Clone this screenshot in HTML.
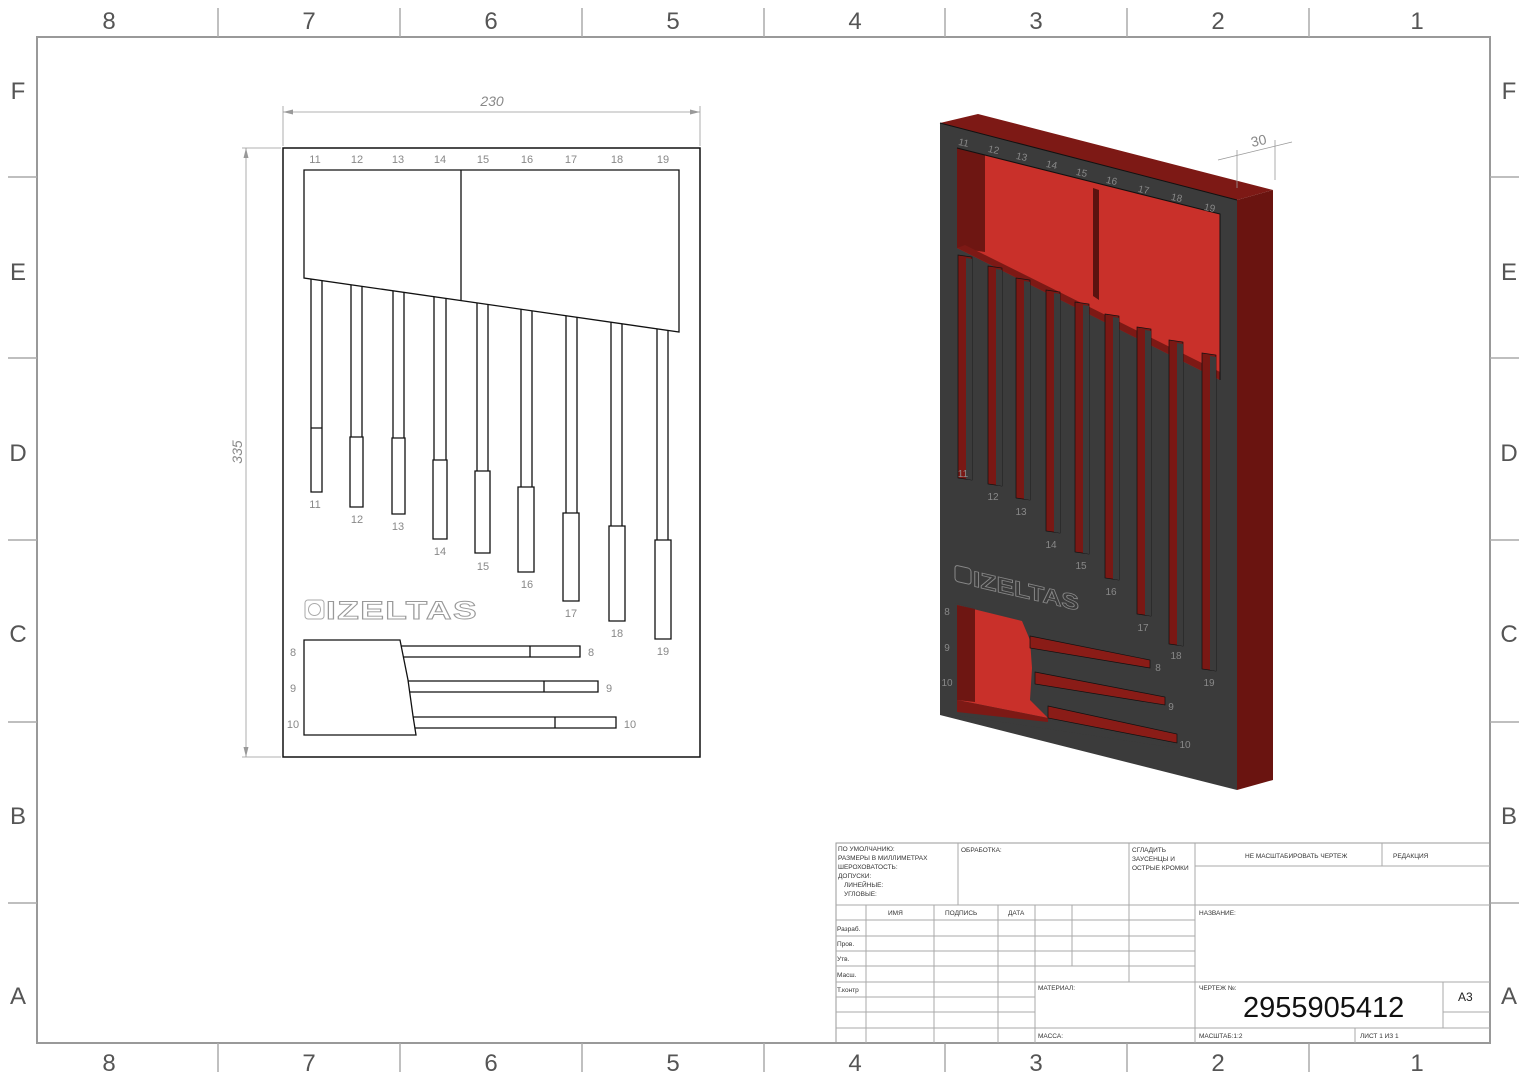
<!DOCTYPE html>
<html><head><meta charset="utf-8"><style>
html,body{margin:0;padding:0;background:#fff}
svg{display:block}
text{font-family:"Liberation Sans","DejaVu Sans",sans-serif}
.g{fill:#555;font-size:24px}
.n{fill:#888;font-size:11px}
.t{fill:#333;font-size:6.5px}
.tb line{stroke:#aaa;stroke-width:1}
</style></head><body>
<svg width="1527" height="1080" viewBox="0 0 1527 1080" xmlns="http://www.w3.org/2000/svg">
<rect width="1527" height="1080" fill="#fff"/>
<!-- frame -->
<rect x="37" y="37" width="1453" height="1006" fill="none" stroke="#999" stroke-width="2"/>
<g stroke="#aaa" stroke-width="1.5">
<line x1="218" y1="8" x2="218" y2="37"/><line x1="400" y1="8" x2="400" y2="37"/><line x1="582" y1="8" x2="582" y2="37"/><line x1="764" y1="8" x2="764" y2="37"/><line x1="945" y1="8" x2="945" y2="37"/><line x1="1127" y1="8" x2="1127" y2="37"/><line x1="1309" y1="8" x2="1309" y2="37"/>
<line x1="218" y1="1043" x2="218" y2="1072"/><line x1="400" y1="1043" x2="400" y2="1072"/><line x1="582" y1="1043" x2="582" y2="1072"/><line x1="764" y1="1043" x2="764" y2="1072"/><line x1="945" y1="1043" x2="945" y2="1072"/><line x1="1127" y1="1043" x2="1127" y2="1072"/><line x1="1309" y1="1043" x2="1309" y2="1072"/>
<line x1="8" y1="177" x2="37" y2="177"/><line x1="8" y1="358" x2="37" y2="358"/><line x1="8" y1="540" x2="37" y2="540"/><line x1="8" y1="722" x2="37" y2="722"/><line x1="8" y1="903" x2="37" y2="903"/>
<line x1="1490" y1="177" x2="1519" y2="177"/><line x1="1490" y1="358" x2="1519" y2="358"/><line x1="1490" y1="540" x2="1519" y2="540"/><line x1="1490" y1="722" x2="1519" y2="722"/><line x1="1490" y1="903" x2="1519" y2="903"/>
</g>
<g class="g" text-anchor="middle">
<text x="109" y="29">8</text><text x="309" y="29">7</text><text x="491" y="29">6</text><text x="673" y="29">5</text><text x="855" y="29">4</text><text x="1036" y="29">3</text><text x="1218" y="29">2</text><text x="1417" y="29">1</text>
<text x="109" y="1071">8</text><text x="309" y="1071">7</text><text x="491" y="1071">6</text><text x="673" y="1071">5</text><text x="855" y="1071">4</text><text x="1036" y="1071">3</text><text x="1218" y="1071">2</text><text x="1417" y="1071">1</text>
<text x="18" y="99">F</text><text x="18" y="280">E</text><text x="18" y="461">D</text><text x="18" y="642">C</text><text x="18" y="824">B</text><text x="18" y="1004">A</text>
<text x="1509" y="99">F</text><text x="1509" y="280">E</text><text x="1509" y="461">D</text><text x="1509" y="642">C</text><text x="1509" y="824">B</text><text x="1509" y="1004">A</text>
</g>

<!-- FRONT VIEW -->
<g stroke="#999" stroke-width="0.8" fill="none">
<line x1="283" y1="146" x2="283" y2="106"/><line x1="700" y1="146" x2="700" y2="106"/>
<line x1="283" y1="112" x2="700" y2="112"/>
<line x1="281" y1="148" x2="242" y2="148"/><line x1="281" y1="757" x2="242" y2="757"/>
<line x1="246" y1="148" x2="246" y2="757"/>
</g>
<path d="M283 112l10 -2.5v5z M700 112l-10 -2.5v5z M246 148l-2.5 10h5z M246 757l-2.5 -10h5z" fill="#999"/>
<text x="492" y="106" class="n" style="font-size:14px;font-style:italic" text-anchor="middle">230</text>
<text x="242" y="452" class="n" style="font-size:14px;font-style:italic" text-anchor="middle" transform="rotate(-90 242 452)">335</text>

<rect x="283" y="148" width="417" height="609" fill="none" stroke="#111" stroke-width="1.5"/>
<g fill="none" stroke="#111" stroke-width="1.3">
<polygon points="304,170 679,170 679,332 304,278"/>
<line x1="461" y1="170" x2="461" y2="300.6"/>
<path d="M311 279V428V492H322V428V280.6 M311 428H322"/>
<path d="M351 284.8V437H350V507H363V437H362V286.4 M350 437H363"/>
<path d="M393 290.8V438H392V514H405V438H404V292.4 M392 438H405"/>
<path d="M434 296.7V460H433V539H447V460H446V298.4 M433 460H447"/>
<path d="M477 302.9V471H475V553H490V471H488V304.5 M475 471H490"/>
<path d="M521 309.2V487H518V572H534V487H532V310.8 M518 487H534"/>
<path d="M566 315.7V513H563V601H579V513H577V317.3 M563 513H579"/>
<path d="M611 322.2V526H609V621H625V526H622V323.8 M609 526H625"/>
<path d="M657 328.8V540H655V639H671V540H668V330.4 M655 540H671"/>
<polygon points="304,640 400,640 408,680 413,716 416,735 304,735"/>
<path d="M401 646H580V657H403 M530 646V657"/>
<path d="M408 681H598V692H410 M544 681V692"/>
<path d="M413 717H616V728H415 M555 717V728"/>
</g>
<g class="n" text-anchor="middle">
<text x="315" y="163">11</text><text x="357" y="163">12</text><text x="398" y="163">13</text><text x="440" y="163">14</text><text x="483" y="163">15</text><text x="527" y="163">16</text><text x="571" y="163">17</text><text x="617" y="163">18</text><text x="663" y="163">19</text>
<text x="315" y="508">11</text><text x="357" y="523">12</text><text x="398" y="530">13</text><text x="440" y="555">14</text><text x="483" y="570">15</text><text x="527" y="588">16</text><text x="571" y="617">17</text><text x="617" y="637">18</text><text x="663" y="655">19</text>
<text x="293" y="656">8</text><text x="591" y="656">8</text><text x="293" y="692">9</text><text x="609" y="692">9</text><text x="293" y="728">10</text><text x="630" y="728">10</text>
</g>
<rect x="305" y="600" width="19" height="19" rx="3" fill="none" stroke="#aaa" stroke-width="1"/>
<circle cx="314.5" cy="609.5" r="6" fill="none" stroke="#aaa"/>
<text x="326" y="619" fill="none" stroke="#999" stroke-width="0.9" style="font-size:25px;font-weight:bold;letter-spacing:1px" textLength="152" lengthAdjust="spacingAndGlyphs">IZELTAS</text>

<!-- ISO VIEW -->
<polygon points="940,123 978,114 1273,190 1237,200" fill="#7d1915"/>
<polygon points="1237,200 1273,190 1273,780 1237,790" fill="#6a1410"/>
<polygon points="940,123 1237,200 1237,790 940,715" fill="#3b3b3b"/>
<polygon points="940,123 1237,200" fill="none" stroke="#111"/>
<!-- top pocket -->
<polygon points="957,148 1220,214 1220,380 957,248" fill="#c9302a"/>
<polygon points="957,148 985,155 985,252 957,248" fill="#6e1612"/>
<polygon points="957,248 1220,380 1220,372 965,245" fill="#7d1915"/>
<polygon points="1093,188 1099,190 1099,300 1093,296" fill="#5a120f"/>
<polyline points="957,148 1220,214 1220,380" fill="none" stroke="#111"/>
<!-- slots -->
<g fill="#7a1814" stroke="#111" stroke-width="0.7">
<polygon points="958,255 972,257 972,480 958,478"/>
<polygon points="988,266 1002,268 1002,486 988,484"/>
<polygon points="1016,278 1030,280 1030,500 1016,498"/>
<polygon points="1046,290 1060,292 1060,533 1046,531"/>
<polygon points="1075,302 1089,304 1089,554 1075,552"/>
<polygon points="1105,314 1119,316 1119,580 1105,578"/>
<polygon points="1137,327 1151,329 1151,616 1137,614"/>
<polygon points="1169,340 1183,342 1183,646 1169,644"/>
<polygon points="1202,353 1216,355 1216,671 1202,669"/>
</g>
<g fill="#3b3b3b">
<polygon points="966,258 972,259 972,480 966,479"/>
<polygon points="996,269 1002,270 1002,486 996,485"/>
<polygon points="1024,281 1030,282 1030,500 1024,499"/>
<polygon points="1054,293 1060,294 1060,533 1054,532"/>
<polygon points="1083,305 1089,306 1089,554 1083,553"/>
<polygon points="1113,317 1119,318 1119,580 1113,579"/>
<polygon points="1145,330 1151,331 1151,616 1145,615"/>
<polygon points="1177,343 1183,344 1183,646 1177,645"/>
<polygon points="1210,356 1216,357 1216,671 1210,670"/>
</g>
<!-- bottom pocket -->
<polygon points="955,603 1022,620 1030,640 1030,700 1050,720 1176,745 1176,748 955,715" fill="#3b3b3b"/>
<polygon points="957,605 1022,621 1030,640 1032,668 1030,700 1048,718 957,700" fill="#c9302a"/>
<polygon points="957,605 975,609 975,702 957,700" fill="#6e1612"/>
<polygon points="957,700 1048,718 1048,722 957,712" fill="#7d1915"/>
<g fill="#8a1c17" stroke="#111" stroke-width="0.7">
<polygon points="1030,636 1150,660 1150,668 1030,648"/>
<polygon points="1035,672 1165,697 1165,705 1035,684"/>
<polygon points="1048,706 1177,734 1177,743 1048,718"/>
</g>
<g class="n" style="font-size:10px" fill="#888" text-anchor="middle">
<text x="963" y="146" transform="rotate(12 963 146)">11</text><text x="993" y="153" transform="rotate(12 993 153)">12</text><text x="1021" y="160" transform="rotate(12 1021 160)">13</text><text x="1051" y="168" transform="rotate(12 1051 168)">14</text><text x="1081" y="176" transform="rotate(12 1081 176)">15</text><text x="1111" y="184" transform="rotate(12 1111 184)">16</text><text x="1143" y="193" transform="rotate(12 1143 193)">17</text><text x="1176" y="201" transform="rotate(12 1176 201)">18</text><text x="1209" y="211" transform="rotate(12 1209 211)">19</text>
<text x="963" y="477">11</text><text x="993" y="500">12</text><text x="1021" y="515">13</text><text x="1051" y="548">14</text><text x="1081" y="569">15</text><text x="1111" y="595">16</text><text x="1143" y="631">17</text><text x="1176" y="659">18</text><text x="1209" y="686">19</text>
<text x="947" y="615">8</text><text x="1158" y="671">8</text><text x="947" y="651">9</text><text x="1171" y="710">9</text><text x="947" y="686">10</text><text x="1185" y="748">10</text>
</g>
<g transform="translate(955,565) skewY(13)">
<rect x="0" y="0" width="16" height="16" rx="3" fill="none" stroke="#888"/>
<text x="18" y="17" fill="none" stroke="#888" stroke-width="0.8" style="font-size:22px;font-weight:bold" textLength="106" lengthAdjust="spacingAndGlyphs">IZELTAS</text>
</g>
<g stroke="#999" stroke-width="0.8" fill="none">
<line x1="1237" y1="188" x2="1237" y2="150"/><line x1="1275" y1="180" x2="1275" y2="140"/>
<line x1="1218" y1="160" x2="1292" y2="142"/>
</g>
<text x="1252" y="147" class="n" style="font-size:14px" transform="rotate(-12 1252 147)">30</text>

<!-- TITLE BLOCK -->
<g class="tb">
<rect x="836" y="843" width="654" height="200" fill="none" stroke="#999"/>
<line x1="836" y1="905" x2="1490" y2="905"/>
<line x1="958" y1="843" x2="958" y2="905"/>
<line x1="1129" y1="843" x2="1129" y2="982"/>
<line x1="1195" y1="843" x2="1195" y2="1043"/>
<line x1="1382" y1="843" x2="1382" y2="866"/>
<line x1="1195" y1="866" x2="1490" y2="866"/>
<line x1="836" y1="920" x2="1195" y2="920"/><line x1="836" y1="936" x2="1195" y2="936"/><line x1="836" y1="951" x2="1195" y2="951"/><line x1="836" y1="966" x2="1195" y2="966"/>
<line x1="836" y1="982" x2="1490" y2="982"/>
<line x1="836" y1="997" x2="1035" y2="997"/><line x1="836" y1="1012" x2="1035" y2="1012"/>
<line x1="836" y1="1028" x2="1490" y2="1028"/>
<line x1="866" y1="905" x2="866" y2="1043"/><line x1="934" y1="905" x2="934" y2="1043"/><line x1="998" y1="905" x2="998" y2="1043"/><line x1="1035" y1="905" x2="1035" y2="1043"/>
<line x1="1072" y1="905" x2="1072" y2="966"/>
<line x1="1443" y1="982" x2="1443" y2="1028"/><line x1="1443" y1="1012" x2="1490" y2="1012"/>
<line x1="1355" y1="1028" x2="1355" y2="1043"/>
</g>
<g class="t">
<text x="838" y="851">ПО УМОЛЧАНИЮ:</text><text x="838" y="860">РАЗМЕРЫ В МИЛЛИМЕТРАХ</text><text x="838" y="869">ШЕРОХОВАТОСТЬ:</text><text x="838" y="878">ДОПУСКИ:</text><text x="844" y="887">ЛИНЕЙНЫЕ:</text><text x="844" y="896">УГЛОВЫЕ:</text>
<text x="961" y="852">ОБРАБОТКА:</text>
<text x="1132" y="852">СГЛАДИТЬ</text><text x="1132" y="861">ЗАУСЕНЦЫ И</text><text x="1132" y="870">ОСТРЫЕ КРОМКИ</text>
<text x="1245" y="858">НЕ МАСШТАБИРОВАТЬ ЧЕРТЕЖ</text><text x="1393" y="858">РЕДАКЦИЯ</text>
<text x="888" y="915">ИМЯ</text><text x="945" y="915">ПОДПИСЬ</text><text x="1008" y="915">ДАТА</text>
<text x="837" y="931">Разраб.</text><text x="837" y="946">Пров.</text><text x="837" y="961">Утв.</text><text x="837" y="977">Масш.</text><text x="837" y="992">Т.контр</text>
<text x="1038" y="990">МАТЕРИАЛ:</text><text x="1038" y="1038">МАССА:</text>
<text x="1199" y="915">НАЗВАНИЕ:</text><text x="1199" y="990">ЧЕРТЕЖ №:</text>
<text x="1199" y="1038">МАСШТАБ:1:2</text><text x="1360" y="1038">ЛИСТ 1 ИЗ 1</text>
</g>
<text x="1243" y="1017" fill="#111" style="font-size:29px">2955905412</text>
<text x="1458" y="1001" fill="#222" style="font-size:12px">A3</text>
</svg>
</body></html>
